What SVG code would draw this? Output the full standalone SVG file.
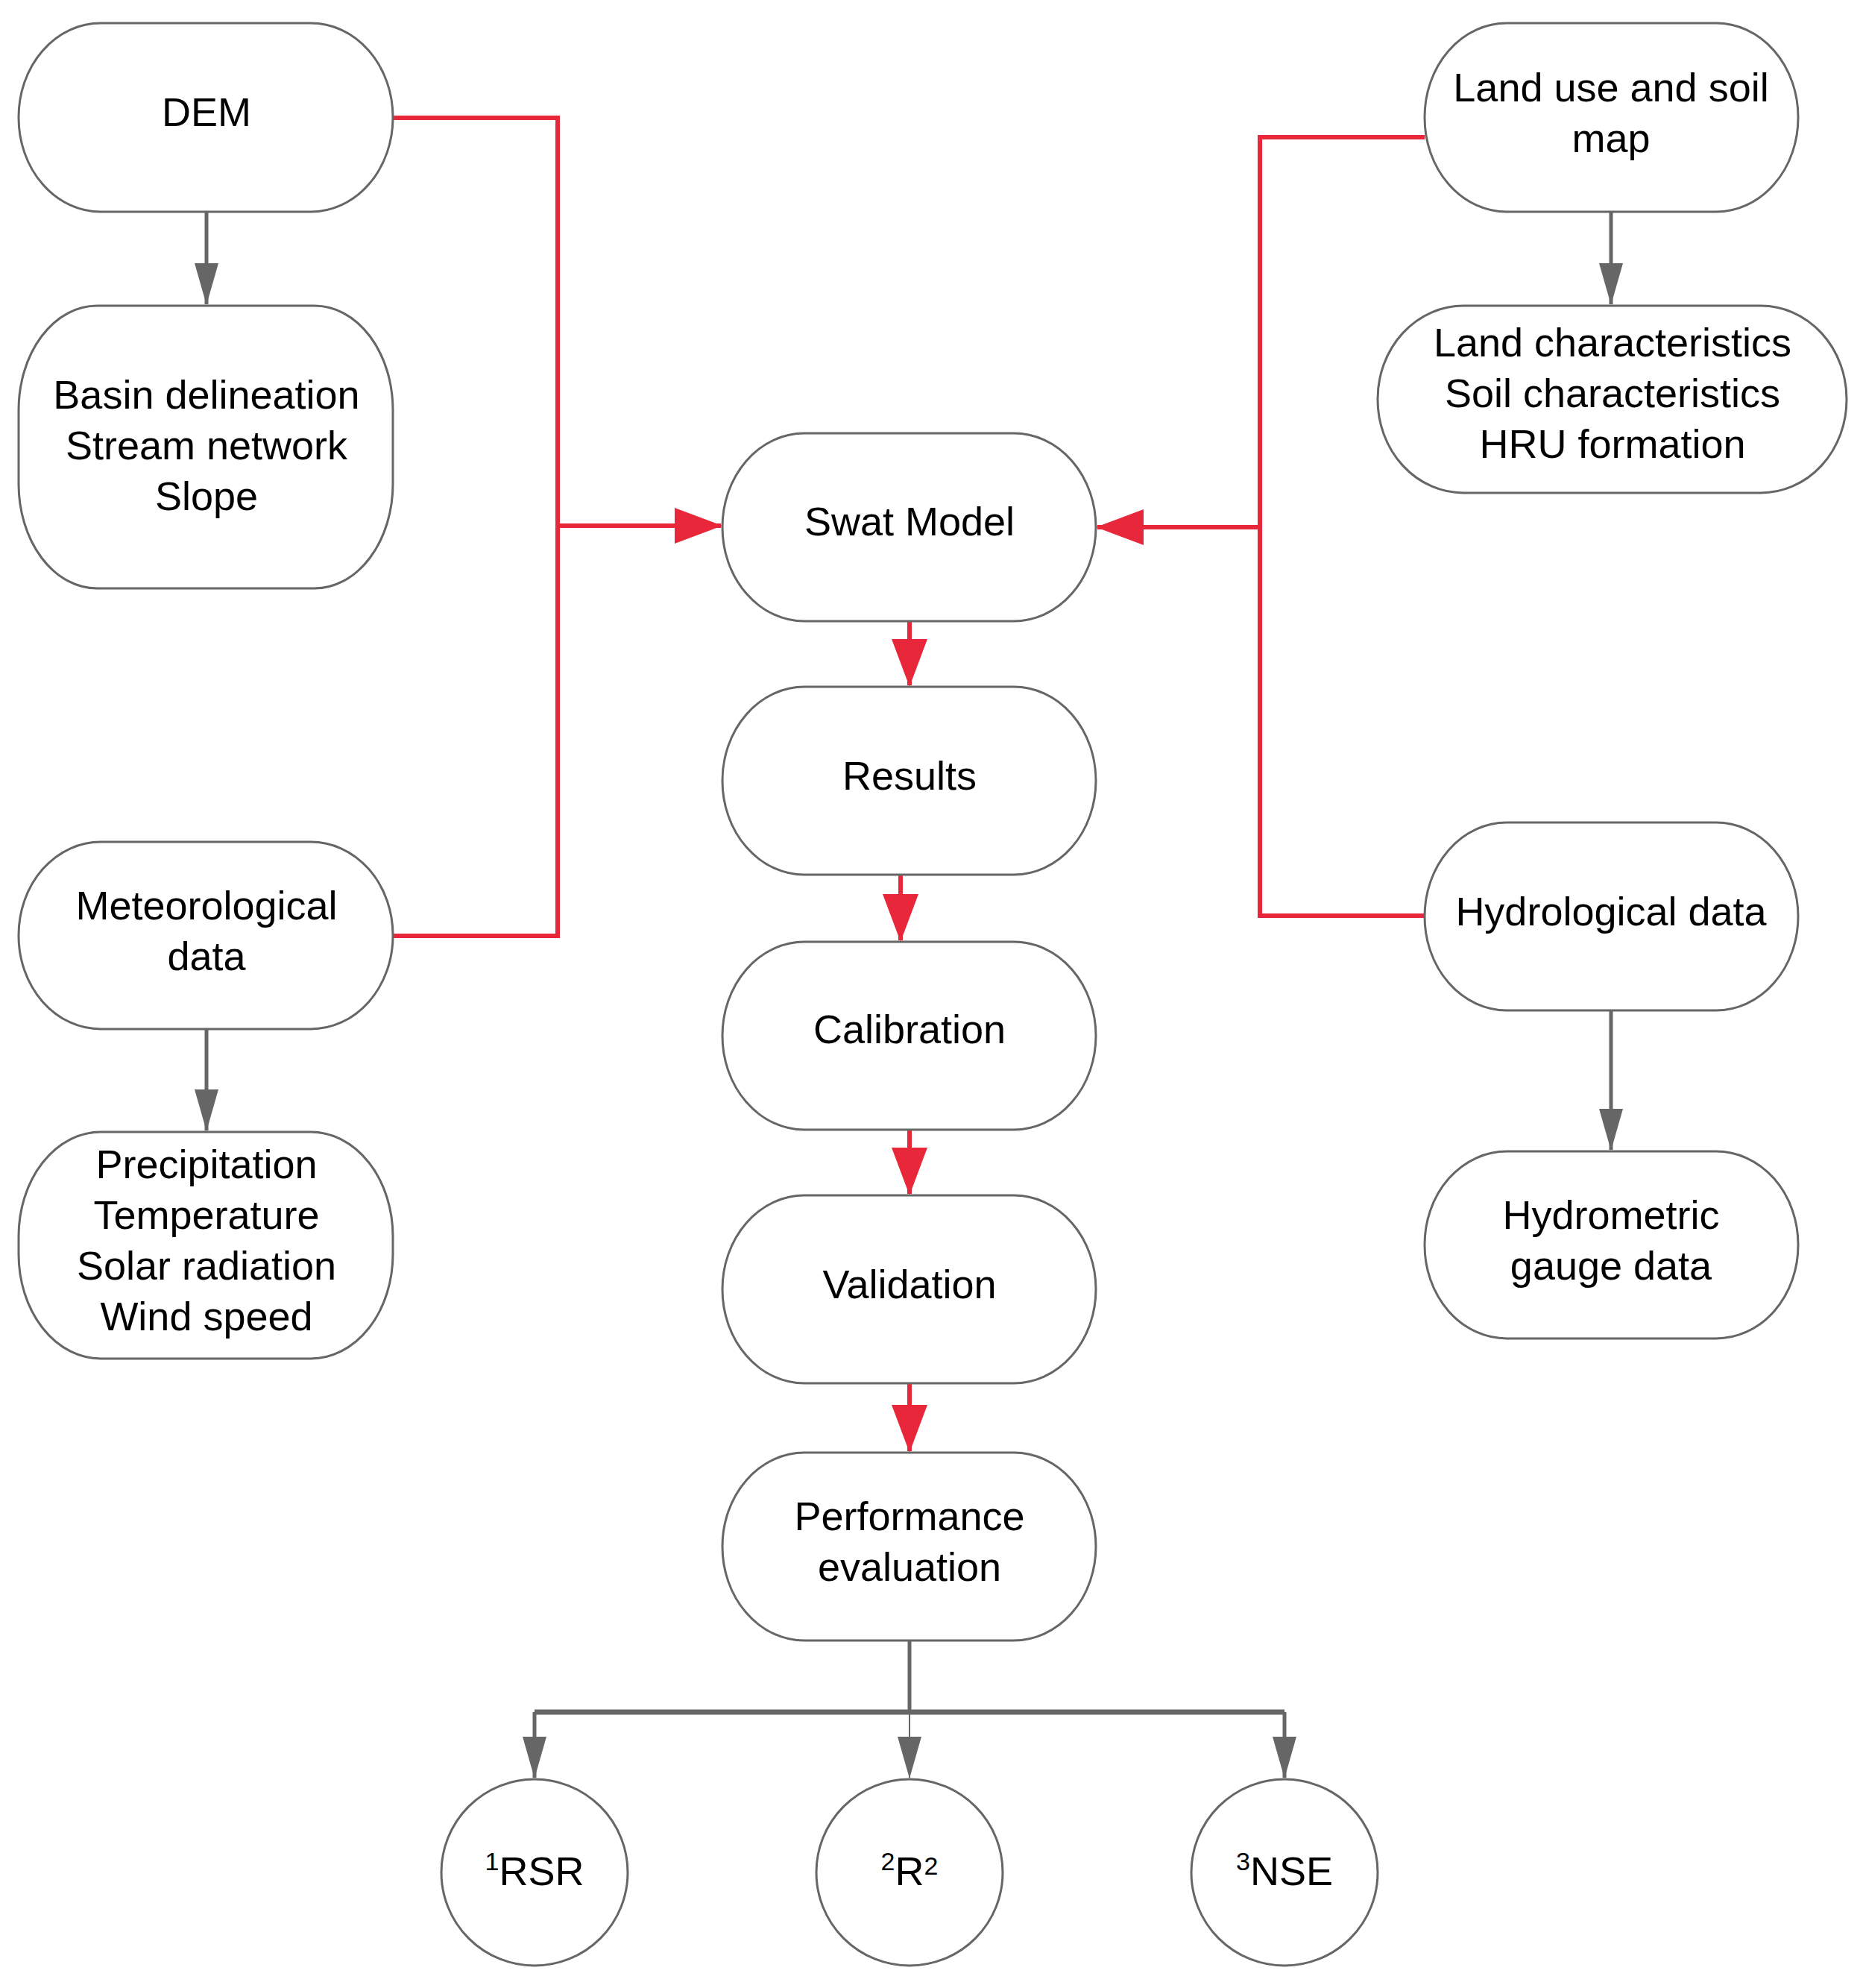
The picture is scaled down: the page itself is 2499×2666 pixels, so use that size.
<svg xmlns="http://www.w3.org/2000/svg" width="2499" height="2666" viewBox="0 0 2499 2666">
<style>
.n{fill:#fff;stroke:#666;stroke-width:3}
.t{font-family:"Liberation Sans",Arial,sans-serif;font-size:54px;fill:#000;text-anchor:middle}
.r{fill:none;stroke:#e8283a;stroke-width:6}
.g{fill:none;stroke:#666;stroke-width:5}
</style>
<defs>
<marker id="ar" markerUnits="userSpaceOnUse" markerWidth="64" markerHeight="48" refX="62" refY="24" orient="auto"><path d="M0,0L64,24L0,48z" fill="#e8283a"/></marker>
<marker id="ag" markerUnits="userSpaceOnUse" markerWidth="56" markerHeight="32" refX="55" refY="16" orient="auto"><path d="M0,0L56,16L0,32z" fill="#666"/></marker>
</defs>
<g id="connectors">
<path class="r" d="M527,158H748V1255H527"/>
<path class="r" d="M748,705H967" marker-end="url(#ar)"/>
<path class="r" d="M1911,184H1690V1228H1911"/>
<path class="r" d="M1690,707H1472" marker-end="url(#ar)"/>
<path class="r" d="M1220,833V919" marker-end="url(#ar)"/>
<path class="r" d="M1208,1173V1261" marker-end="url(#ar)"/>
<path class="r" d="M1220,1515V1601" marker-end="url(#ar)"/>
<path class="r" d="M1220,1855V1946" marker-end="url(#ar)"/>
<path class="g" d="M277,284V408" marker-end="url(#ag)"/>
<path class="g" d="M277,1380V1516" marker-end="url(#ag)"/>
<path class="g" d="M2161,284V408" marker-end="url(#ag)"/>
<path class="g" d="M2161,1355V1542" marker-end="url(#ag)"/>
<path class="g" d="M1220,2200V2296"/>
<path fill="none" stroke="#666" stroke-width="7" d="M717,2296H1723"/>
<path class="g" d="M717,2296V2384" marker-end="url(#ag)"/>
<path class="g" d="M1723,2296V2384" marker-end="url(#ag)"/>
<path fill="none" stroke="#666" stroke-width="2" d="M1220,2296V2384" marker-end="url(#ag)"/>
</g>
<g id="dem"><rect class="n" x="25" y="31" width="502" height="253" rx="110" ry="126"/><text class="t" x="277" y="169">DEM</text></g>
<g id="basin"><rect class="n" x="25" y="410" width="502" height="379" rx="105" ry="140"/><text class="t" x="277" y="548">Basin delineation</text><text class="t" x="277" y="616">Stream network</text><text class="t" x="277" y="684">Slope</text></g>
<g id="met"><rect class="n" x="25" y="1129" width="502" height="251" rx="110" ry="125"/><text class="t" x="277" y="1233">Meteorological</text><text class="t" x="277" y="1301">data</text></g>
<g id="precip"><rect class="n" x="25" y="1518" width="502" height="304" rx="110" ry="140"/><text class="t" x="277" y="1580">Precipitation</text><text class="t" x="277" y="1648">Temperature</text><text class="t" x="277" y="1716">Solar radiation</text><text class="t" x="277" y="1784">Wind speed</text></g>
<g id="swat"><rect class="n" x="969" y="581" width="501" height="252" rx="110" ry="126"/><text class="t" x="1220" y="718">Swat Model</text></g>
<g id="results"><rect class="n" x="969" y="921" width="501" height="252" rx="110" ry="126"/><text class="t" x="1220" y="1059">Results</text></g>
<g id="calibration"><rect class="n" x="969" y="1263" width="501" height="252" rx="110" ry="126"/><text class="t" x="1220" y="1399">Calibration</text></g>
<g id="validation"><rect class="n" x="969" y="1603" width="501" height="252" rx="110" ry="126"/><text class="t" x="1220" y="1741">Validation</text></g>
<g id="performance"><rect class="n" x="969" y="1948" width="501" height="252" rx="110" ry="126"/><text class="t" x="1220" y="2052">Performance</text><text class="t" x="1220" y="2120">evaluation</text></g>
<g id="landuse"><rect class="n" x="1911" y="31" width="501" height="253" rx="110" ry="126"/><text class="t" x="2161" y="136">Land use and soil</text><text class="t" x="2161" y="204">map</text></g>
<g id="landchar"><rect class="n" x="1848" y="410" width="629" height="251" rx="115" ry="125"/><text class="t" x="2163" y="478">Land characteristics</text><text class="t" x="2163" y="546">Soil characteristics</text><text class="t" x="2163" y="614">HRU formation</text></g>
<g id="hydro"><rect class="n" x="1911" y="1103" width="501" height="252" rx="110" ry="126"/><text class="t" x="2161" y="1241">Hydrological data</text></g>
<g id="hydrometric"><rect class="n" x="1911" y="1544" width="501" height="251" rx="110" ry="125"/><text class="t" x="2161" y="1648">Hydrometric</text><text class="t" x="2161" y="1716">gauge data</text></g>
<g id="rsr"><circle class="n" cx="717" cy="2511" r="125"/><text class="t" x="717" y="2528"><tspan font-size="34" dy="-20">1</tspan><tspan dy="20">RSR</tspan></text></g>
<g id="r2"><circle class="n" cx="1220" cy="2511" r="125"/><text class="t" x="1220" y="2528"><tspan font-size="34" dy="-20">2</tspan><tspan dy="20">R</tspan><tspan font-size="34" dy="-14">2</tspan></text></g>
<g id="nse"><circle class="n" cx="1723" cy="2511" r="125"/><text class="t" x="1723" y="2528"><tspan font-size="34" dy="-20">3</tspan><tspan dy="20">NSE</tspan></text></g>
</svg>
